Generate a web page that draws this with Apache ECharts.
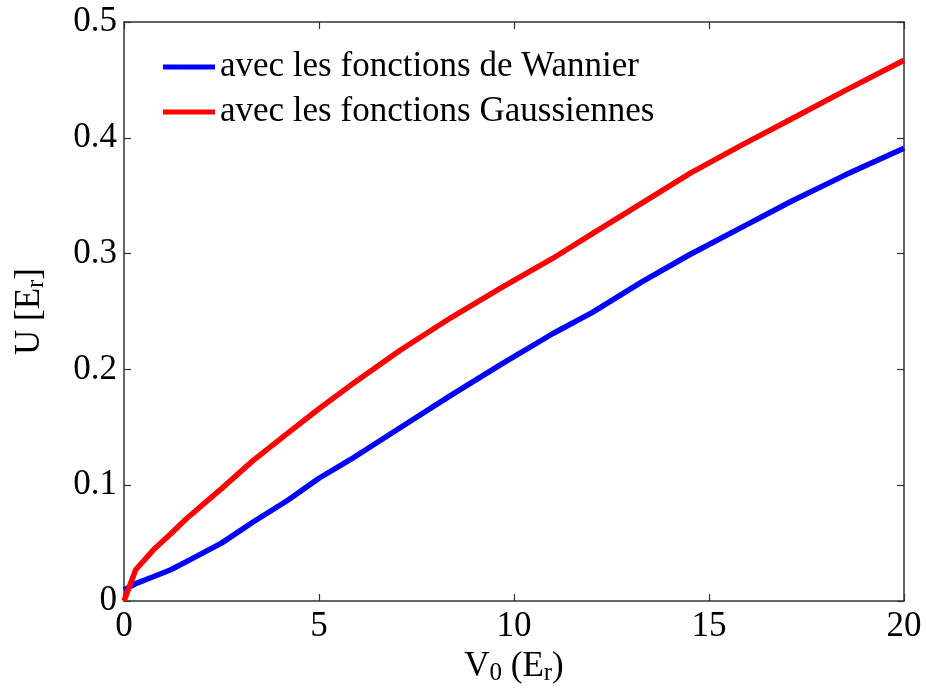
<!DOCTYPE html>
<html>
<head>
<meta charset="utf-8">
<script src="https://cdn.jsdelivr.net/npm/echarts@6/dist/echarts.min.js"></script>
<style>
  html, body { margin: 0; padding: 0; background: #fff; }
  #main { width: 926px; height: 696px; }
</style>
</head>
<body>
<div id="main"></div>
<script>
// V0 (Er) positions
const v0 = [0, 0.3, 0.75, 1.2, 1.6, 2.5, 3.3, 4.2, 5, 5.8, 7.1, 8.4, 9.7, 11, 12, 13.3, 14.5, 15.8, 17.1, 18.5, 20];
// U [Er] with Wannier functions
const uWannier = [0.0095, 0.015, 0.021, 0.027, 0.034, 0.05, 0.068, 0.087, 0.106, 0.122, 0.15, 0.178, 0.205, 0.231, 0.249, 0.276, 0.299, 0.322, 0.345, 0.368, 0.391];
// U [Er] with Gaussian functions
const uGauss = [0, 0.027, 0.044, 0.058, 0.071, 0.097, 0.121, 0.145, 0.166, 0.186, 0.217, 0.245, 0.271, 0.296, 0.317, 0.344, 0.369, 0.393, 0.416, 0.441, 0.467];

const seriesNames = ['avec les fonctions de Wannier', 'avec les fonctions Gaussiennes'];
const seriesColors = ['#0000ff', '#ff0000'];

const FONT = '"Liberation Serif", "DejaVu Serif", serif';
const AXIS_COLOR = '#333';

const pairs = ys => v0.map((x, i) => [x, ys[i]]);

const chart = echarts.init(document.getElementById('main'));

// shared look for the box axes
const boxAxis = {
  axisLine: { show: true, onZero: false, lineStyle: { color: AXIS_COLOR, width: 1.5 } },
  axisTick: { show: true, inside: true, length: 7, lineStyle: { color: AXIS_COLOR, width: 1.2 } },
  splitLine: { show: false }
};

const subStyle = { fontFamily: FONT, fontSize: 25, color: '#000', verticalAlign: 'bottom', padding: [14, 0, 0, 0] };

const option = {
  backgroundColor: '#fff',
  animation: false,
  grid: { left: 124, top: 22, width: 780, height: 579, containLabel: false },
  legend: {
    orient: 'vertical',
    left: 158,
    top: 44,
    itemWidth: 52,
    itemHeight: 5,
    itemGap: 9,
    icon: 'rect',
    textStyle: { fontFamily: FONT, fontSize: 35, lineHeight: 36, color: '#000' },
    data: seriesNames
  },
  xAxis: [
    Object.assign({}, boxAxis, {
      type: 'value', min: 0, max: 20, interval: 5, position: 'bottom',
      axisLabel: { fontFamily: FONT, fontSize: 35, color: '#000', margin: 8 },
      name: 'V{sub|0} (E{sub|r})',
      nameLocation: 'middle',
      nameGap: 39,
      nameTextStyle: { fontFamily: FONT, fontSize: 35, color: '#000', rich: { sub: subStyle } }
    }),
    Object.assign({}, boxAxis, {
      type: 'value', min: 0, max: 20, interval: 5, position: 'top',
      axisLabel: { show: false }
    })
  ],
  yAxis: [
    Object.assign({}, boxAxis, {
      type: 'value', min: 0, max: 0.5, interval: 0.1, position: 'left',
      axisLabel: { fontFamily: FONT, fontSize: 35, color: '#000', margin: 7 },
      name: 'U [E{sub|r}]',
      nameLocation: 'middle',
      nameGap: 75,
      nameTextStyle: { fontFamily: FONT, fontSize: 35, color: '#000', rich: { sub: subStyle } }
    }),
    Object.assign({}, boxAxis, {
      type: 'value', min: 0, max: 0.5, interval: 0.1, position: 'right',
      axisLabel: { show: false }
    })
  ],
  series: [
    {
      name: seriesNames[0], type: 'line', data: pairs(uWannier),
      smooth: false, showSymbol: false, color: seriesColors[0],
      lineStyle: { width: 5.5, color: seriesColors[0] }
    },
    {
      name: seriesNames[1], type: 'line', data: pairs(uGauss),
      smooth: false, showSymbol: false, color: seriesColors[1],
      lineStyle: { width: 5.5, color: seriesColors[1] }
    }
  ]
};

chart.setOption(option);
</script>
</body>
</html>
